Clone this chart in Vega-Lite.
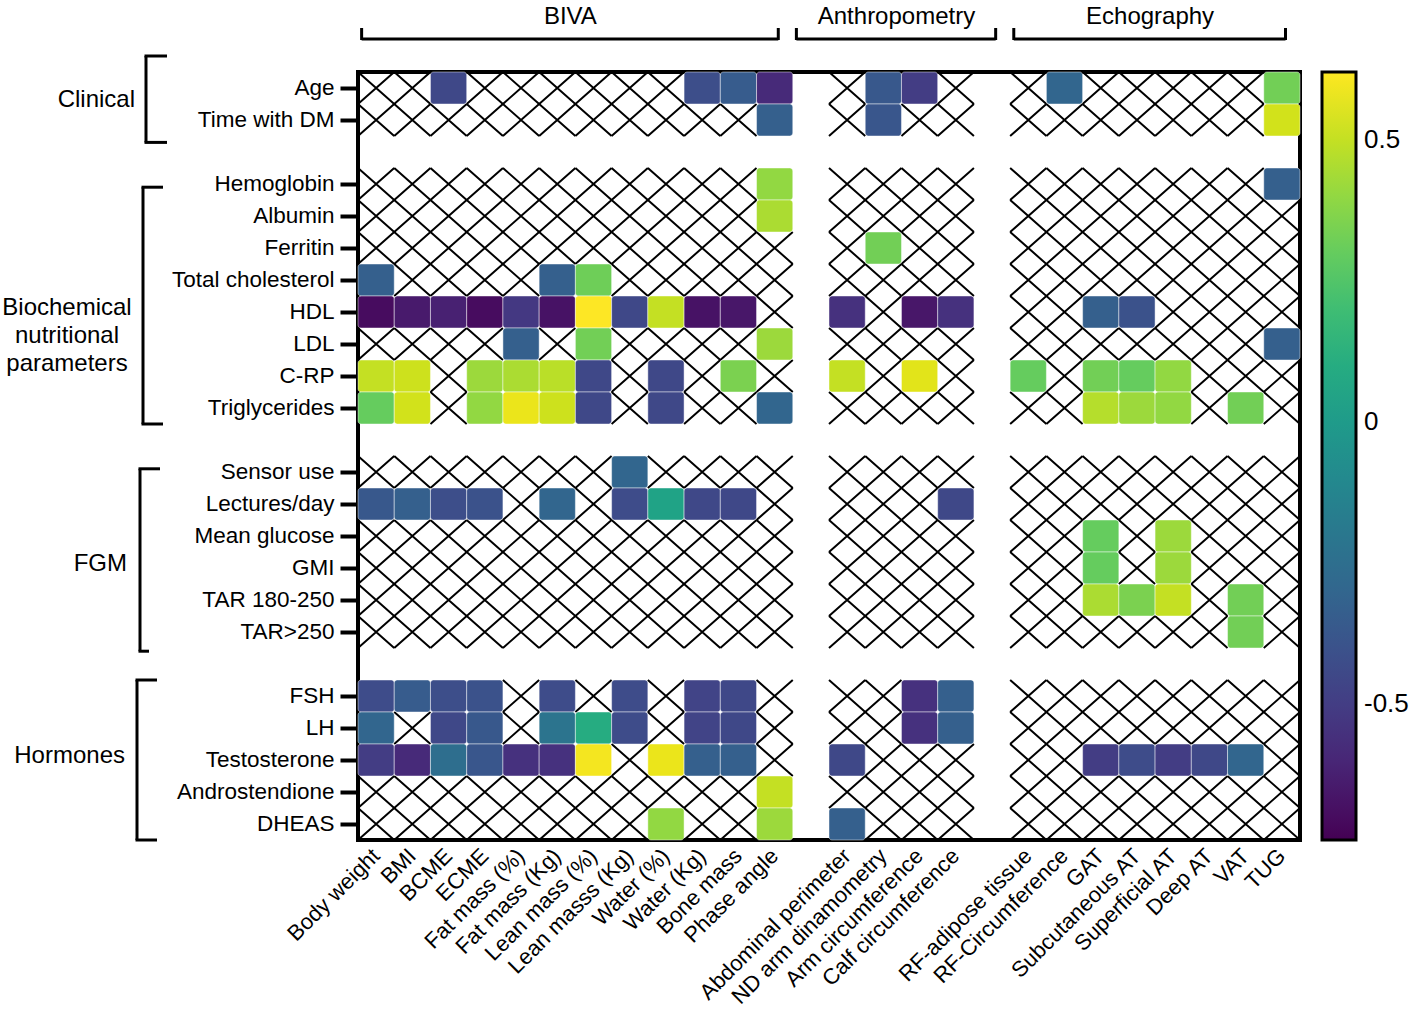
{
"$schema": "https://vega.github.io/schema/vega-lite/v6.json",
"autosize": {"type": "none"},
"padding": {"left": 358, "top": 72, "right": 117, "bottom": 174},
"width": 942,
"height": 768,
"background": "white",
"config": {
  "font": "Liberation Sans",
  "view": {"stroke": "black", "strokeWidth": 4},
  "axis": {"labelColor": "black", "labelFont": "Liberation Sans"},
  "legend": {"labelFont": "Liberation Sans", "labelColor": "black"},
  "rule": {"strokeWidth": 3, "color": "black"}
},
"datasets": {
"cells": [
{"r":"Age","c":"Body weight"},{"r":"Age","c":"BMI"},{"r":"Age","c":"BCME","v":-0.45},{"r":"Age","c":"ECME"},{"r":"Age","c":"Fat mass (%)"},{"r":"Age","c":"Fat mass (Kg)"},{"r":"Age","c":"Lean mass (%)"},{"r":"Age","c":"Lean masss (Kg)"},{"r":"Age","c":"Water (%)"},{"r":"Age","c":"Water (Kg)","v":-0.42},{"r":"Age","c":"Bone mass","v":-0.35},{"r":"Age","c":"Phase angle","v":-0.58},{"r":"Age","c":"Abdominal perimeter"},{"r":"Age","c":"ND arm dinamometry","v":-0.37},{"r":"Age","c":"Arm circumference","v":-0.5},{"r":"Age","c":"Calf circumference"},{"r":"Age","c":"RF-adipose tissue"},{"r":"Age","c":"RF-Circumference","v":-0.3},{"r":"Age","c":"GAT"},{"r":"Age","c":"Subcutaneous AT"},{"r":"Age","c":"Superficial AT"},{"r":"Age","c":"Deep AT"},{"r":"Age","c":"VAT"},{"r":"Age","c":"TUG","v":0.33},
{"r":"Time with DM","c":"Body weight"},{"r":"Time with DM","c":"BMI"},{"r":"Time with DM","c":"BCME"},{"r":"Time with DM","c":"ECME"},{"r":"Time with DM","c":"Fat mass (%)"},{"r":"Time with DM","c":"Fat mass (Kg)"},{"r":"Time with DM","c":"Lean mass (%)"},{"r":"Time with DM","c":"Lean masss (Kg)"},{"r":"Time with DM","c":"Water (%)"},{"r":"Time with DM","c":"Water (Kg)"},{"r":"Time with DM","c":"Bone mass"},{"r":"Time with DM","c":"Phase angle","v":-0.33},{"r":"Time with DM","c":"Abdominal perimeter"},{"r":"Time with DM","c":"ND arm dinamometry","v":-0.38},{"r":"Time with DM","c":"Arm circumference"},{"r":"Time with DM","c":"Calf circumference"},{"r":"Time with DM","c":"RF-adipose tissue"},{"r":"Time with DM","c":"RF-Circumference"},{"r":"Time with DM","c":"GAT"},{"r":"Time with DM","c":"Subcutaneous AT"},{"r":"Time with DM","c":"Superficial AT"},{"r":"Time with DM","c":"Deep AT"},{"r":"Time with DM","c":"VAT"},{"r":"Time with DM","c":"TUG","v":0.53},
{"r":"Hemoglobin","c":"Body weight"},{"r":"Hemoglobin","c":"BMI"},{"r":"Hemoglobin","c":"BCME"},{"r":"Hemoglobin","c":"ECME"},{"r":"Hemoglobin","c":"Fat mass (%)"},{"r":"Hemoglobin","c":"Fat mass (Kg)"},{"r":"Hemoglobin","c":"Lean mass (%)"},{"r":"Hemoglobin","c":"Lean masss (Kg)"},{"r":"Hemoglobin","c":"Water (%)"},{"r":"Hemoglobin","c":"Water (Kg)"},{"r":"Hemoglobin","c":"Bone mass"},{"r":"Hemoglobin","c":"Phase angle","v":0.4},{"r":"Hemoglobin","c":"Abdominal perimeter"},{"r":"Hemoglobin","c":"ND arm dinamometry"},{"r":"Hemoglobin","c":"Arm circumference"},{"r":"Hemoglobin","c":"Calf circumference"},{"r":"Hemoglobin","c":"RF-adipose tissue"},{"r":"Hemoglobin","c":"RF-Circumference"},{"r":"Hemoglobin","c":"GAT"},{"r":"Hemoglobin","c":"Subcutaneous AT"},{"r":"Hemoglobin","c":"Superficial AT"},{"r":"Hemoglobin","c":"Deep AT"},{"r":"Hemoglobin","c":"VAT"},{"r":"Hemoglobin","c":"TUG","v":-0.33},
{"r":"Albumin","c":"Body weight"},{"r":"Albumin","c":"BMI"},{"r":"Albumin","c":"BCME"},{"r":"Albumin","c":"ECME"},{"r":"Albumin","c":"Fat mass (%)"},{"r":"Albumin","c":"Fat mass (Kg)"},{"r":"Albumin","c":"Lean mass (%)"},{"r":"Albumin","c":"Lean masss (Kg)"},{"r":"Albumin","c":"Water (%)"},{"r":"Albumin","c":"Water (Kg)"},{"r":"Albumin","c":"Bone mass"},{"r":"Albumin","c":"Phase angle","v":0.45},{"r":"Albumin","c":"Abdominal perimeter"},{"r":"Albumin","c":"ND arm dinamometry"},{"r":"Albumin","c":"Arm circumference"},{"r":"Albumin","c":"Calf circumference"},{"r":"Albumin","c":"RF-adipose tissue"},{"r":"Albumin","c":"RF-Circumference"},{"r":"Albumin","c":"GAT"},{"r":"Albumin","c":"Subcutaneous AT"},{"r":"Albumin","c":"Superficial AT"},{"r":"Albumin","c":"Deep AT"},{"r":"Albumin","c":"VAT"},{"r":"Albumin","c":"TUG"},
{"r":"Ferritin","c":"Body weight"},{"r":"Ferritin","c":"BMI"},{"r":"Ferritin","c":"BCME"},{"r":"Ferritin","c":"ECME"},{"r":"Ferritin","c":"Fat mass (%)"},{"r":"Ferritin","c":"Fat mass (Kg)"},{"r":"Ferritin","c":"Lean mass (%)"},{"r":"Ferritin","c":"Lean masss (Kg)"},{"r":"Ferritin","c":"Water (%)"},{"r":"Ferritin","c":"Water (Kg)"},{"r":"Ferritin","c":"Bone mass"},{"r":"Ferritin","c":"Phase angle"},{"r":"Ferritin","c":"Abdominal perimeter"},{"r":"Ferritin","c":"ND arm dinamometry","v":0.33},{"r":"Ferritin","c":"Arm circumference"},{"r":"Ferritin","c":"Calf circumference"},{"r":"Ferritin","c":"RF-adipose tissue"},{"r":"Ferritin","c":"RF-Circumference"},{"r":"Ferritin","c":"GAT"},{"r":"Ferritin","c":"Subcutaneous AT"},{"r":"Ferritin","c":"Superficial AT"},{"r":"Ferritin","c":"Deep AT"},{"r":"Ferritin","c":"VAT"},{"r":"Ferritin","c":"TUG"},
{"r":"Total cholesterol","c":"Body weight","v":-0.33},{"r":"Total cholesterol","c":"BMI"},{"r":"Total cholesterol","c":"BCME"},{"r":"Total cholesterol","c":"ECME"},{"r":"Total cholesterol","c":"Fat mass (%)"},{"r":"Total cholesterol","c":"Fat mass (Kg)","v":-0.33},{"r":"Total cholesterol","c":"Lean mass (%)","v":0.32},{"r":"Total cholesterol","c":"Lean masss (Kg)"},{"r":"Total cholesterol","c":"Water (%)"},{"r":"Total cholesterol","c":"Water (Kg)"},{"r":"Total cholesterol","c":"Bone mass"},{"r":"Total cholesterol","c":"Phase angle"},{"r":"Total cholesterol","c":"Abdominal perimeter"},{"r":"Total cholesterol","c":"ND arm dinamometry"},{"r":"Total cholesterol","c":"Arm circumference"},{"r":"Total cholesterol","c":"Calf circumference"},{"r":"Total cholesterol","c":"RF-adipose tissue"},{"r":"Total cholesterol","c":"RF-Circumference"},{"r":"Total cholesterol","c":"GAT"},{"r":"Total cholesterol","c":"Subcutaneous AT"},{"r":"Total cholesterol","c":"Superficial AT"},{"r":"Total cholesterol","c":"Deep AT"},{"r":"Total cholesterol","c":"VAT"},{"r":"Total cholesterol","c":"TUG"},
{"r":"HDL","c":"Body weight","v":-0.7},{"r":"HDL","c":"BMI","v":-0.65},{"r":"HDL","c":"BCME","v":-0.62},{"r":"HDL","c":"ECME","v":-0.7},{"r":"HDL","c":"Fat mass (%)","v":-0.52},{"r":"HDL","c":"Fat mass (Kg)","v":-0.68},{"r":"HDL","c":"Lean mass (%)","v":0.62},{"r":"HDL","c":"Lean masss (Kg)","v":-0.45},{"r":"HDL","c":"Water (%)","v":0.5},{"r":"HDL","c":"Water (Kg)","v":-0.68},{"r":"HDL","c":"Bone mass","v":-0.66},{"r":"HDL","c":"Phase angle"},{"r":"HDL","c":"Abdominal perimeter","v":-0.55},{"r":"HDL","c":"ND arm dinamometry"},{"r":"HDL","c":"Arm circumference","v":-0.66},{"r":"HDL","c":"Calf circumference","v":-0.55},{"r":"HDL","c":"RF-adipose tissue"},{"r":"HDL","c":"RF-Circumference"},{"r":"HDL","c":"GAT","v":-0.33},{"r":"HDL","c":"Subcutaneous AT","v":-0.4},{"r":"HDL","c":"Superficial AT"},{"r":"HDL","c":"Deep AT"},{"r":"HDL","c":"VAT"},{"r":"HDL","c":"TUG"},
{"r":"LDL","c":"Body weight"},{"r":"LDL","c":"BMI"},{"r":"LDL","c":"BCME"},{"r":"LDL","c":"ECME"},{"r":"LDL","c":"Fat mass (%)","v":-0.33},{"r":"LDL","c":"Fat mass (Kg)"},{"r":"LDL","c":"Lean mass (%)","v":0.33},{"r":"LDL","c":"Lean masss (Kg)"},{"r":"LDL","c":"Water (%)"},{"r":"LDL","c":"Water (Kg)"},{"r":"LDL","c":"Bone mass"},{"r":"LDL","c":"Phase angle","v":0.42},{"r":"LDL","c":"Abdominal perimeter"},{"r":"LDL","c":"ND arm dinamometry"},{"r":"LDL","c":"Arm circumference"},{"r":"LDL","c":"Calf circumference"},{"r":"LDL","c":"RF-adipose tissue"},{"r":"LDL","c":"RF-Circumference"},{"r":"LDL","c":"GAT"},{"r":"LDL","c":"Subcutaneous AT"},{"r":"LDL","c":"Superficial AT"},{"r":"LDL","c":"Deep AT"},{"r":"LDL","c":"VAT"},{"r":"LDL","c":"TUG","v":-0.33},
{"r":"C-RP","c":"Body weight","v":0.5},{"r":"C-RP","c":"BMI","v":0.52},{"r":"C-RP","c":"BCME"},{"r":"C-RP","c":"ECME","v":0.42},{"r":"C-RP","c":"Fat mass (%)","v":0.45},{"r":"C-RP","c":"Fat mass (Kg)","v":0.48},{"r":"C-RP","c":"Lean mass (%)","v":-0.45},{"r":"C-RP","c":"Lean masss (Kg)"},{"r":"C-RP","c":"Water (%)","v":-0.45},{"r":"C-RP","c":"Water (Kg)"},{"r":"C-RP","c":"Bone mass","v":0.35},{"r":"C-RP","c":"Phase angle"},{"r":"C-RP","c":"Abdominal perimeter","v":0.5},{"r":"C-RP","c":"ND arm dinamometry"},{"r":"C-RP","c":"Arm circumference","v":0.56},{"r":"C-RP","c":"Calf circumference"},{"r":"C-RP","c":"RF-adipose tissue","v":0.3},{"r":"C-RP","c":"RF-Circumference"},{"r":"C-RP","c":"GAT","v":0.33},{"r":"C-RP","c":"Subcutaneous AT","v":0.3},{"r":"C-RP","c":"Superficial AT","v":0.4},{"r":"C-RP","c":"Deep AT"},{"r":"C-RP","c":"VAT"},{"r":"C-RP","c":"TUG"},
{"r":"Triglycerides","c":"Body weight","v":0.3},{"r":"Triglycerides","c":"BMI","v":0.53},{"r":"Triglycerides","c":"BCME"},{"r":"Triglycerides","c":"ECME","v":0.4},{"r":"Triglycerides","c":"Fat mass (%)","v":0.58},{"r":"Triglycerides","c":"Fat mass (Kg)","v":0.52},{"r":"Triglycerides","c":"Lean mass (%)","v":-0.45},{"r":"Triglycerides","c":"Lean masss (Kg)"},{"r":"Triglycerides","c":"Water (%)","v":-0.45},{"r":"Triglycerides","c":"Water (Kg)"},{"r":"Triglycerides","c":"Bone mass"},{"r":"Triglycerides","c":"Phase angle","v":-0.3},{"r":"Triglycerides","c":"Abdominal perimeter"},{"r":"Triglycerides","c":"ND arm dinamometry"},{"r":"Triglycerides","c":"Arm circumference"},{"r":"Triglycerides","c":"Calf circumference"},{"r":"Triglycerides","c":"RF-adipose tissue"},{"r":"Triglycerides","c":"RF-Circumference"},{"r":"Triglycerides","c":"GAT","v":0.47},{"r":"Triglycerides","c":"Subcutaneous AT","v":0.42},{"r":"Triglycerides","c":"Superficial AT","v":0.4},{"r":"Triglycerides","c":"Deep AT"},{"r":"Triglycerides","c":"VAT","v":0.33},{"r":"Triglycerides","c":"TUG"},
{"r":"Sensor use","c":"Body weight"},{"r":"Sensor use","c":"BMI"},{"r":"Sensor use","c":"BCME"},{"r":"Sensor use","c":"ECME"},{"r":"Sensor use","c":"Fat mass (%)"},{"r":"Sensor use","c":"Fat mass (Kg)"},{"r":"Sensor use","c":"Lean mass (%)"},{"r":"Sensor use","c":"Lean masss (Kg)","v":-0.3},{"r":"Sensor use","c":"Water (%)"},{"r":"Sensor use","c":"Water (Kg)"},{"r":"Sensor use","c":"Bone mass"},{"r":"Sensor use","c":"Phase angle"},{"r":"Sensor use","c":"Abdominal perimeter"},{"r":"Sensor use","c":"ND arm dinamometry"},{"r":"Sensor use","c":"Arm circumference"},{"r":"Sensor use","c":"Calf circumference"},{"r":"Sensor use","c":"RF-adipose tissue"},{"r":"Sensor use","c":"RF-Circumference"},{"r":"Sensor use","c":"GAT"},{"r":"Sensor use","c":"Subcutaneous AT"},{"r":"Sensor use","c":"Superficial AT"},{"r":"Sensor use","c":"Deep AT"},{"r":"Sensor use","c":"VAT"},{"r":"Sensor use","c":"TUG"},
{"r":"Lectures/day","c":"Body weight","v":-0.37},{"r":"Lectures/day","c":"BMI","v":-0.33},{"r":"Lectures/day","c":"BCME","v":-0.42},{"r":"Lectures/day","c":"ECME","v":-0.4},{"r":"Lectures/day","c":"Fat mass (%)"},{"r":"Lectures/day","c":"Fat mass (Kg)","v":-0.3},{"r":"Lectures/day","c":"Lean mass (%)"},{"r":"Lectures/day","c":"Lean masss (Kg)","v":-0.43},{"r":"Lectures/day","c":"Water (%)","v":0.05},{"r":"Lectures/day","c":"Water (Kg)","v":-0.45},{"r":"Lectures/day","c":"Bone mass","v":-0.45},{"r":"Lectures/day","c":"Phase angle"},{"r":"Lectures/day","c":"Abdominal perimeter"},{"r":"Lectures/day","c":"ND arm dinamometry"},{"r":"Lectures/day","c":"Arm circumference"},{"r":"Lectures/day","c":"Calf circumference","v":-0.45},{"r":"Lectures/day","c":"RF-adipose tissue"},{"r":"Lectures/day","c":"RF-Circumference"},{"r":"Lectures/day","c":"GAT"},{"r":"Lectures/day","c":"Subcutaneous AT"},{"r":"Lectures/day","c":"Superficial AT"},{"r":"Lectures/day","c":"Deep AT"},{"r":"Lectures/day","c":"VAT"},{"r":"Lectures/day","c":"TUG"},
{"r":"Mean glucose","c":"Body weight"},{"r":"Mean glucose","c":"BMI"},{"r":"Mean glucose","c":"BCME"},{"r":"Mean glucose","c":"ECME"},{"r":"Mean glucose","c":"Fat mass (%)"},{"r":"Mean glucose","c":"Fat mass (Kg)"},{"r":"Mean glucose","c":"Lean mass (%)"},{"r":"Mean glucose","c":"Lean masss (Kg)"},{"r":"Mean glucose","c":"Water (%)"},{"r":"Mean glucose","c":"Water (Kg)"},{"r":"Mean glucose","c":"Bone mass"},{"r":"Mean glucose","c":"Phase angle"},{"r":"Mean glucose","c":"Abdominal perimeter"},{"r":"Mean glucose","c":"ND arm dinamometry"},{"r":"Mean glucose","c":"Arm circumference"},{"r":"Mean glucose","c":"Calf circumference"},{"r":"Mean glucose","c":"RF-adipose tissue"},{"r":"Mean glucose","c":"RF-Circumference"},{"r":"Mean glucose","c":"GAT","v":0.3},{"r":"Mean glucose","c":"Subcutaneous AT"},{"r":"Mean glucose","c":"Superficial AT","v":0.42},{"r":"Mean glucose","c":"Deep AT"},{"r":"Mean glucose","c":"VAT"},{"r":"Mean glucose","c":"TUG"},
{"r":"GMI","c":"Body weight"},{"r":"GMI","c":"BMI"},{"r":"GMI","c":"BCME"},{"r":"GMI","c":"ECME"},{"r":"GMI","c":"Fat mass (%)"},{"r":"GMI","c":"Fat mass (Kg)"},{"r":"GMI","c":"Lean mass (%)"},{"r":"GMI","c":"Lean masss (Kg)"},{"r":"GMI","c":"Water (%)"},{"r":"GMI","c":"Water (Kg)"},{"r":"GMI","c":"Bone mass"},{"r":"GMI","c":"Phase angle"},{"r":"GMI","c":"Abdominal perimeter"},{"r":"GMI","c":"ND arm dinamometry"},{"r":"GMI","c":"Arm circumference"},{"r":"GMI","c":"Calf circumference"},{"r":"GMI","c":"RF-adipose tissue"},{"r":"GMI","c":"RF-Circumference"},{"r":"GMI","c":"GAT","v":0.3},{"r":"GMI","c":"Subcutaneous AT"},{"r":"GMI","c":"Superficial AT","v":0.42},{"r":"GMI","c":"Deep AT"},{"r":"GMI","c":"VAT"},{"r":"GMI","c":"TUG"},
{"r":"TAR 180-250","c":"Body weight"},{"r":"TAR 180-250","c":"BMI"},{"r":"TAR 180-250","c":"BCME"},{"r":"TAR 180-250","c":"ECME"},{"r":"TAR 180-250","c":"Fat mass (%)"},{"r":"TAR 180-250","c":"Fat mass (Kg)"},{"r":"TAR 180-250","c":"Lean mass (%)"},{"r":"TAR 180-250","c":"Lean masss (Kg)"},{"r":"TAR 180-250","c":"Water (%)"},{"r":"TAR 180-250","c":"Water (Kg)"},{"r":"TAR 180-250","c":"Bone mass"},{"r":"TAR 180-250","c":"Phase angle"},{"r":"TAR 180-250","c":"Abdominal perimeter"},{"r":"TAR 180-250","c":"ND arm dinamometry"},{"r":"TAR 180-250","c":"Arm circumference"},{"r":"TAR 180-250","c":"Calf circumference"},{"r":"TAR 180-250","c":"RF-adipose tissue"},{"r":"TAR 180-250","c":"RF-Circumference"},{"r":"TAR 180-250","c":"GAT","v":0.45},{"r":"TAR 180-250","c":"Subcutaneous AT","v":0.35},{"r":"TAR 180-250","c":"Superficial AT","v":0.5},{"r":"TAR 180-250","c":"Deep AT"},{"r":"TAR 180-250","c":"VAT","v":0.33},{"r":"TAR 180-250","c":"TUG"},
{"r":"TAR>250","c":"Body weight"},{"r":"TAR>250","c":"BMI"},{"r":"TAR>250","c":"BCME"},{"r":"TAR>250","c":"ECME"},{"r":"TAR>250","c":"Fat mass (%)"},{"r":"TAR>250","c":"Fat mass (Kg)"},{"r":"TAR>250","c":"Lean mass (%)"},{"r":"TAR>250","c":"Lean masss (Kg)"},{"r":"TAR>250","c":"Water (%)"},{"r":"TAR>250","c":"Water (Kg)"},{"r":"TAR>250","c":"Bone mass"},{"r":"TAR>250","c":"Phase angle"},{"r":"TAR>250","c":"Abdominal perimeter"},{"r":"TAR>250","c":"ND arm dinamometry"},{"r":"TAR>250","c":"Arm circumference"},{"r":"TAR>250","c":"Calf circumference"},{"r":"TAR>250","c":"RF-adipose tissue"},{"r":"TAR>250","c":"RF-Circumference"},{"r":"TAR>250","c":"GAT"},{"r":"TAR>250","c":"Subcutaneous AT"},{"r":"TAR>250","c":"Superficial AT"},{"r":"TAR>250","c":"Deep AT"},{"r":"TAR>250","c":"VAT","v":0.33},{"r":"TAR>250","c":"TUG"},
{"r":"FSH","c":"Body weight","v":-0.43},{"r":"FSH","c":"BMI","v":-0.35},{"r":"FSH","c":"BCME","v":-0.42},{"r":"FSH","c":"ECME","v":-0.4},{"r":"FSH","c":"Fat mass (%)"},{"r":"FSH","c":"Fat mass (Kg)","v":-0.43},{"r":"FSH","c":"Lean mass (%)"},{"r":"FSH","c":"Lean masss (Kg)","v":-0.43},{"r":"FSH","c":"Water (%)"},{"r":"FSH","c":"Water (Kg)","v":-0.47},{"r":"FSH","c":"Bone mass","v":-0.45},{"r":"FSH","c":"Phase angle"},{"r":"FSH","c":"Abdominal perimeter"},{"r":"FSH","c":"ND arm dinamometry"},{"r":"FSH","c":"Arm circumference","v":-0.55},{"r":"FSH","c":"Calf circumference","v":-0.33},{"r":"FSH","c":"RF-adipose tissue"},{"r":"FSH","c":"RF-Circumference"},{"r":"FSH","c":"GAT"},{"r":"FSH","c":"Subcutaneous AT"},{"r":"FSH","c":"Superficial AT"},{"r":"FSH","c":"Deep AT"},{"r":"FSH","c":"VAT"},{"r":"FSH","c":"TUG"},
{"r":"LH","c":"Body weight","v":-0.3},{"r":"LH","c":"BMI"},{"r":"LH","c":"BCME","v":-0.45},{"r":"LH","c":"ECME","v":-0.37},{"r":"LH","c":"Fat mass (%)"},{"r":"LH","c":"Fat mass (Kg)","v":-0.22},{"r":"LH","c":"Lean mass (%)","v":0.1},{"r":"LH","c":"Lean masss (Kg)","v":-0.43},{"r":"LH","c":"Water (%)"},{"r":"LH","c":"Water (Kg)","v":-0.47},{"r":"LH","c":"Bone mass","v":-0.45},{"r":"LH","c":"Phase angle"},{"r":"LH","c":"Abdominal perimeter"},{"r":"LH","c":"ND arm dinamometry"},{"r":"LH","c":"Arm circumference","v":-0.55},{"r":"LH","c":"Calf circumference","v":-0.33},{"r":"LH","c":"RF-adipose tissue"},{"r":"LH","c":"RF-Circumference"},{"r":"LH","c":"GAT"},{"r":"LH","c":"Subcutaneous AT"},{"r":"LH","c":"Superficial AT"},{"r":"LH","c":"Deep AT"},{"r":"LH","c":"VAT"},{"r":"LH","c":"TUG"},
{"r":"Testosterone","c":"Body weight","v":-0.5},{"r":"Testosterone","c":"BMI","v":-0.58},{"r":"Testosterone","c":"BCME","v":-0.25},{"r":"Testosterone","c":"ECME","v":-0.38},{"r":"Testosterone","c":"Fat mass (%)","v":-0.55},{"r":"Testosterone","c":"Fat mass (Kg)","v":-0.55},{"r":"Testosterone","c":"Lean mass (%)","v":0.6},{"r":"Testosterone","c":"Lean masss (Kg)"},{"r":"Testosterone","c":"Water (%)","v":0.58},{"r":"Testosterone","c":"Water (Kg)","v":-0.33},{"r":"Testosterone","c":"Bone mass","v":-0.33},{"r":"Testosterone","c":"Phase angle"},{"r":"Testosterone","c":"Abdominal perimeter","v":-0.45},{"r":"Testosterone","c":"ND arm dinamometry"},{"r":"Testosterone","c":"Arm circumference"},{"r":"Testosterone","c":"Calf circumference"},{"r":"Testosterone","c":"RF-adipose tissue"},{"r":"Testosterone","c":"RF-Circumference"},{"r":"Testosterone","c":"GAT","v":-0.5},{"r":"Testosterone","c":"Subcutaneous AT","v":-0.43},{"r":"Testosterone","c":"Superficial AT","v":-0.5},{"r":"Testosterone","c":"Deep AT","v":-0.45},{"r":"Testosterone","c":"VAT","v":-0.3},{"r":"Testosterone","c":"TUG"},
{"r":"Androstendione","c":"Body weight"},{"r":"Androstendione","c":"BMI"},{"r":"Androstendione","c":"BCME"},{"r":"Androstendione","c":"ECME"},{"r":"Androstendione","c":"Fat mass (%)"},{"r":"Androstendione","c":"Fat mass (Kg)"},{"r":"Androstendione","c":"Lean mass (%)"},{"r":"Androstendione","c":"Lean masss (Kg)"},{"r":"Androstendione","c":"Water (%)"},{"r":"Androstendione","c":"Water (Kg)"},{"r":"Androstendione","c":"Bone mass"},{"r":"Androstendione","c":"Phase angle","v":0.5},{"r":"Androstendione","c":"Abdominal perimeter"},{"r":"Androstendione","c":"ND arm dinamometry"},{"r":"Androstendione","c":"Arm circumference"},{"r":"Androstendione","c":"Calf circumference"},{"r":"Androstendione","c":"RF-adipose tissue"},{"r":"Androstendione","c":"RF-Circumference"},{"r":"Androstendione","c":"GAT"},{"r":"Androstendione","c":"Subcutaneous AT"},{"r":"Androstendione","c":"Superficial AT"},{"r":"Androstendione","c":"Deep AT"},{"r":"Androstendione","c":"VAT"},{"r":"Androstendione","c":"TUG"},
{"r":"DHEAS","c":"Body weight"},{"r":"DHEAS","c":"BMI"},{"r":"DHEAS","c":"BCME"},{"r":"DHEAS","c":"ECME"},{"r":"DHEAS","c":"Fat mass (%)"},{"r":"DHEAS","c":"Fat mass (Kg)"},{"r":"DHEAS","c":"Lean mass (%)"},{"r":"DHEAS","c":"Lean masss (Kg)"},{"r":"DHEAS","c":"Water (%)","v":0.4},{"r":"DHEAS","c":"Water (Kg)"},{"r":"DHEAS","c":"Bone mass"},{"r":"DHEAS","c":"Phase angle","v":0.42},{"r":"DHEAS","c":"Abdominal perimeter","v":-0.33},{"r":"DHEAS","c":"ND arm dinamometry"},{"r":"DHEAS","c":"Arm circumference"},{"r":"DHEAS","c":"Calf circumference"},{"r":"DHEAS","c":"RF-adipose tissue"},{"r":"DHEAS","c":"RF-Circumference"},{"r":"DHEAS","c":"GAT"},{"r":"DHEAS","c":"Subcutaneous AT"},{"r":"DHEAS","c":"Superficial AT"},{"r":"DHEAS","c":"Deep AT"},{"r":"DHEAS","c":"VAT"},{"r":"DHEAS","c":"TUG"}
],
"top": [
{"g":"BIVA","s":"Body weight","e":"Phase angle","t":"Lean mass (%)"},
{"g":"Anthropometry","s":"gap1","e":"gap2","t":"Arm circumference"},
{"g":"Echography","s":"RF-adipose tissue","e":"TUG","t":"Superficial AT"}
],
"left": [
{"g":"Clinical","s":"Age","e":"Time with DM","at":"Time with DM"},
{"g":"Biochemical\nnutritional\nparameters","s":"Hemoglobin","e":"Triglycerides","at":"HDL"},
{"g":"FGM","s":"Sensor use","e":"TAR>250","at":"GMI"},
{"g":"Hormones","s":"FSH","e":"DHEAS","at":"Testosterone"}
]
},
"layer": [
{
"data": {"name": "cells"},
"transform": [{"filter": "!isValid(datum.v)"}],
"mark": {"type": "point", "shape": "M-1,-0.8832L1,0.8832M-1,0.8832L1,-0.8832", "size": 1312.6, "filled": false, "stroke": "black", "color": "black", "strokeWidth": 2, "opacity": 1},
"encoding": {
"x": {"field": "c", "type": "nominal", "title": null, "sort": null,
"scale": {"type": "band", "paddingInner": 0, "paddingOuter": 0, "domain": ["Body weight","BMI","BCME","ECME","Fat mass (%)","Fat mass (Kg)","Lean mass (%)","Lean masss (Kg)","Water (%)","Water (Kg)","Bone mass","Phase angle","gap1","Abdominal perimeter","ND arm dinamometry","Arm circumference","Calf circumference","gap2","RF-adipose tissue","RF-Circumference","GAT","Subcutaneous AT","Superficial AT","Deep AT","VAT","TUG"]},
"axis": {"labelExpr": "indexof(datum.label, 'gap') === 0 ? '' : datum.label", "labelAngle": -45, "labelFontSize": 22, "ticks": false, "domain": false, "labelPadding": 12, "labelBaseline": "middle", "labelAlign": "right", "labelOverlap": false, "labelBound": false, "labelFlush": false, "labelLimit": 400}},
"y": {"field": "r", "type": "nominal", "title": null, "sort": null,
"scale": {"type": "band", "paddingInner": 0, "paddingOuter": 0, "domain": ["Age","Time with DM","gapA","Hemoglobin","Albumin","Ferritin","Total cholesterol","HDL","LDL","C-RP","Triglycerides","gapB","Sensor use","Lectures/day","Mean glucose","GMI","TAR 180-250","TAR>250","gapC","FSH","LH","Testosterone","Androstendione","DHEAS"]},
"axis": {"values": ["Age","Time with DM","Hemoglobin","Albumin","Ferritin","Total cholesterol","HDL","LDL","C-RP","Triglycerides","Sensor use","Lectures/day","Mean glucose","GMI","TAR 180-250","TAR>250","FSH","LH","Testosterone","Androstendione","DHEAS"], "labelFontSize": 22.5, "ticks": true, "tickSize": 18, "tickWidth": 4, "tickColor": "black", "domain": false, "labelPadding": 6, "labelOverlap": false, "labelBound": false, "labelLimit": 400}}
}
},
{
"data": {"name": "cells"},
"transform": [{"filter": "isValid(datum.v)"}],
"mark": {"type": "rect", "cornerRadius": 3, "stroke": "white", "strokeWidth": 1, "strokeOpacity": 0.45},
"encoding": {
"x": {"field": "c", "type": "nominal", "title": null, "sort": null, "scale": {"type": "band", "paddingInner": 0, "paddingOuter": 0, "domain": ["Body weight","BMI","BCME","ECME","Fat mass (%)","Fat mass (Kg)","Lean mass (%)","Lean masss (Kg)","Water (%)","Water (Kg)","Bone mass","Phase angle","gap1","Abdominal perimeter","ND arm dinamometry","Arm circumference","Calf circumference","gap2","RF-adipose tissue","RF-Circumference","GAT","Subcutaneous AT","Superficial AT","Deep AT","VAT","TUG"]}},
"y": {"field": "r", "type": "nominal", "title": null, "sort": null, "scale": {"type": "band", "paddingInner": 0, "paddingOuter": 0, "domain": ["Age","Time with DM","gapA","Hemoglobin","Albumin","Ferritin","Total cholesterol","HDL","LDL","C-RP","Triglycerides","gapB","Sensor use","Lectures/day","Mean glucose","GMI","TAR 180-250","TAR>250","gapC","FSH","LH","Testosterone","Androstendione","DHEAS"]}},
"color": {"field": "v", "type": "quantitative", "title": null,
"scale": {"scheme": "viridis", "domain": [-0.74, 0.62], "nice": false, "zero": false},
"legend": {"values": [-0.5, 0, 0.5], "labelExpr": "'' + datum.value", "gradientLength": 768, "gradientThickness": 34, "gradientStrokeColor": "black", "gradientStrokeWidth": 3, "labelFontSize": 26, "labelOffset": 8, "offset": 22, "padding": 0, "direction": "vertical", "orient": "right"}}
}
},
{
"data": {"name": "top"},
"mark": {"type": "rule"},
"encoding": {
"x": {"field": "s", "type": "nominal", "title": null, "bandPosition": 0.1, "scale": {"type": "band", "paddingInner": 0, "paddingOuter": 0, "domain": ["Body weight","BMI","BCME","ECME","Fat mass (%)","Fat mass (Kg)","Lean mass (%)","Lean masss (Kg)","Water (%)","Water (Kg)","Bone mass","Phase angle","gap1","Abdominal perimeter","ND arm dinamometry","Arm circumference","Calf circumference","gap2","RF-adipose tissue","RF-Circumference","GAT","Subcutaneous AT","Superficial AT","Deep AT","VAT","TUG"]}},
"x2": {"field": "e", "bandPosition": 0.6},
"y": {"value": -33}
}
},
{
"data": {"name": "top"},
"mark": {"type": "rule"},
"encoding": {
"x": {"field": "s", "type": "nominal", "title": null, "bandPosition": 0.1, "scale": {"type": "band", "paddingInner": 0, "paddingOuter": 0, "domain": ["Body weight","BMI","BCME","ECME","Fat mass (%)","Fat mass (Kg)","Lean mass (%)","Lean masss (Kg)","Water (%)","Water (Kg)","Bone mass","Phase angle","gap1","Abdominal perimeter","ND arm dinamometry","Arm circumference","Calf circumference","gap2","RF-adipose tissue","RF-Circumference","GAT","Subcutaneous AT","Superficial AT","Deep AT","VAT","TUG"]}},
"y": {"value": -32},
"y2": {"value": -44}
}
},
{
"data": {"name": "top"},
"mark": {"type": "rule"},
"encoding": {
"x": {"field": "e", "type": "nominal", "title": null, "bandPosition": 0.6, "scale": {"type": "band", "paddingInner": 0, "paddingOuter": 0, "domain": ["Body weight","BMI","BCME","ECME","Fat mass (%)","Fat mass (Kg)","Lean mass (%)","Lean masss (Kg)","Water (%)","Water (Kg)","Bone mass","Phase angle","gap1","Abdominal perimeter","ND arm dinamometry","Arm circumference","Calf circumference","gap2","RF-adipose tissue","RF-Circumference","GAT","Subcutaneous AT","Superficial AT","Deep AT","VAT","TUG"]}},
"y": {"value": -32},
"y2": {"value": -44}
}
},
{
"data": {"name": "top"},
"mark": {"type": "text", "fontSize": 24, "baseline": "middle", "align": "center", "dx": -5, "color": "black"},
"encoding": {
"x": {"field": "t", "type": "nominal", "title": null, "bandPosition": 0, "scale": {"type": "band", "paddingInner": 0, "paddingOuter": 0, "domain": ["Body weight","BMI","BCME","ECME","Fat mass (%)","Fat mass (Kg)","Lean mass (%)","Lean masss (Kg)","Water (%)","Water (Kg)","Bone mass","Phase angle","gap1","Abdominal perimeter","ND arm dinamometry","Arm circumference","Calf circumference","gap2","RF-adipose tissue","RF-Circumference","GAT","Subcutaneous AT","Superficial AT","Deep AT","VAT","TUG"]}},
"y": {"value": -55},
"text": {"field": "g"}
}
},
{
"data": {"name": "left"},
"transform": [{"filter": "datum.g === 'Clinical'"}],
"layer": [
{"mark": {"type": "rule"}, "encoding": {"x": {"value": -212}, "y": {"field": "s", "type": "nominal", "title": null, "bandPosition": -0.5, "scale": {"type": "band", "paddingInner": 0, "paddingOuter": 0, "domain": ["Age","Time with DM","gapA","Hemoglobin","Albumin","Ferritin","Total cholesterol","HDL","LDL","C-RP","Triglycerides","gapB","Sensor use","Lectures/day","Mean glucose","GMI","TAR 180-250","TAR>250","gapC","FSH","LH","Testosterone","Androstendione","DHEAS"]}}, "y2": {"field": "e", "bandPosition": 1.2}}},
{"mark": {"type": "rule"}, "encoding": {"x": {"value": -213.5}, "x2": {"value": -191}, "y": {"field": "s", "type": "nominal", "title": null, "bandPosition": -0.5, "scale": {"type": "band", "paddingInner": 0, "paddingOuter": 0, "domain": ["Age","Time with DM","gapA","Hemoglobin","Albumin","Ferritin","Total cholesterol","HDL","LDL","C-RP","Triglycerides","gapB","Sensor use","Lectures/day","Mean glucose","GMI","TAR 180-250","TAR>250","gapC","FSH","LH","Testosterone","Androstendione","DHEAS"]}}}},
{"mark": {"type": "rule"}, "encoding": {"x": {"value": -213.5}, "x2": {"value": -191}, "y": {"field": "e", "type": "nominal", "title": null, "bandPosition": 1.2, "scale": {"type": "band", "paddingInner": 0, "paddingOuter": 0, "domain": ["Age","Time with DM","gapA","Hemoglobin","Albumin","Ferritin","Total cholesterol","HDL","LDL","C-RP","Triglycerides","gapB","Sensor use","Lectures/day","Mean glucose","GMI","TAR 180-250","TAR>250","gapC","FSH","LH","Testosterone","Androstendione","DHEAS"]}}}},
{"mark": {"type": "text", "fontSize": 24, "baseline": "middle", "align": "right", "dy": -4, "color": "black"}, "encoding": {"x": {"value": -223}, "y": {"field": "at", "type": "nominal", "title": null, "bandPosition": 0, "scale": {"type": "band", "paddingInner": 0, "paddingOuter": 0, "domain": ["Age","Time with DM","gapA","Hemoglobin","Albumin","Ferritin","Total cholesterol","HDL","LDL","C-RP","Triglycerides","gapB","Sensor use","Lectures/day","Mean glucose","GMI","TAR 180-250","TAR>250","gapC","FSH","LH","Testosterone","Androstendione","DHEAS"]}}, "text": {"field": "g"}}}
]
},
{
"data": {"name": "left"},
"transform": [{"filter": "indexof(datum.g, 'Biochemical') === 0"}],
"layer": [
{"mark": {"type": "rule"}, "encoding": {"x": {"value": -215}, "y": {"field": "s", "type": "nominal", "title": null, "bandPosition": 0.6, "scale": {"type": "band", "paddingInner": 0, "paddingOuter": 0, "domain": ["Age","Time with DM","gapA","Hemoglobin","Albumin","Ferritin","Total cholesterol","HDL","LDL","C-RP","Triglycerides","gapB","Sensor use","Lectures/day","Mean glucose","GMI","TAR 180-250","TAR>250","gapC","FSH","LH","Testosterone","Androstendione","DHEAS"]}}, "y2": {"field": "e", "bandPosition": 1}}},
{"mark": {"type": "rule"}, "encoding": {"x": {"value": -216.5}, "x2": {"value": -195}, "y": {"field": "s", "type": "nominal", "title": null, "bandPosition": 0.6, "scale": {"type": "band", "paddingInner": 0, "paddingOuter": 0, "domain": ["Age","Time with DM","gapA","Hemoglobin","Albumin","Ferritin","Total cholesterol","HDL","LDL","C-RP","Triglycerides","gapB","Sensor use","Lectures/day","Mean glucose","GMI","TAR 180-250","TAR>250","gapC","FSH","LH","Testosterone","Androstendione","DHEAS"]}}}},
{"mark": {"type": "rule"}, "encoding": {"x": {"value": -216.5}, "x2": {"value": -195}, "y": {"field": "e", "type": "nominal", "title": null, "bandPosition": 1, "scale": {"type": "band", "paddingInner": 0, "paddingOuter": 0, "domain": ["Age","Time with DM","gapA","Hemoglobin","Albumin","Ferritin","Total cholesterol","HDL","LDL","C-RP","Triglycerides","gapB","Sensor use","Lectures/day","Mean glucose","GMI","TAR 180-250","TAR>250","gapC","FSH","LH","Testosterone","Androstendione","DHEAS"]}}}},
{"mark": {"type": "text", "fontSize": 24, "baseline": "middle", "align": "center", "dy": -4, "lineBreak": "\n", "lineHeight": 28, "color": "black"}, "encoding": {"x": {"value": -291}, "y": {"field": "at", "type": "nominal", "title": null, "bandPosition": 0.5, "scale": {"type": "band", "paddingInner": 0, "paddingOuter": 0, "domain": ["Age","Time with DM","gapA","Hemoglobin","Albumin","Ferritin","Total cholesterol","HDL","LDL","C-RP","Triglycerides","gapB","Sensor use","Lectures/day","Mean glucose","GMI","TAR 180-250","TAR>250","gapC","FSH","LH","Testosterone","Androstendione","DHEAS"]}}, "text": {"field": "g"}}}
]
},
{
"data": {"name": "left"},
"transform": [{"filter": "datum.g === 'FGM'"}],
"layer": [
{"mark": {"type": "rule"}, "encoding": {"x": {"value": -218}, "y": {"field": "s", "type": "nominal", "title": null, "bandPosition": 0.4, "scale": {"type": "band", "paddingInner": 0, "paddingOuter": 0, "domain": ["Age","Time with DM","gapA","Hemoglobin","Albumin","Ferritin","Total cholesterol","HDL","LDL","C-RP","Triglycerides","gapB","Sensor use","Lectures/day","Mean glucose","GMI","TAR 180-250","TAR>250","gapC","FSH","LH","Testosterone","Androstendione","DHEAS"]}}, "y2": {"field": "e", "bandPosition": 1.1}}},
{"mark": {"type": "rule"}, "encoding": {"x": {"value": -219.5}, "x2": {"value": -198}, "y": {"field": "s", "type": "nominal", "title": null, "bandPosition": 0.4, "scale": {"type": "band", "paddingInner": 0, "paddingOuter": 0, "domain": ["Age","Time with DM","gapA","Hemoglobin","Albumin","Ferritin","Total cholesterol","HDL","LDL","C-RP","Triglycerides","gapB","Sensor use","Lectures/day","Mean glucose","GMI","TAR 180-250","TAR>250","gapC","FSH","LH","Testosterone","Androstendione","DHEAS"]}}}},
{"mark": {"type": "rule"}, "encoding": {"x": {"value": -219.5}, "x2": {"value": -209}, "y": {"field": "e", "type": "nominal", "title": null, "bandPosition": 1.1, "scale": {"type": "band", "paddingInner": 0, "paddingOuter": 0, "domain": ["Age","Time with DM","gapA","Hemoglobin","Albumin","Ferritin","Total cholesterol","HDL","LDL","C-RP","Triglycerides","gapB","Sensor use","Lectures/day","Mean glucose","GMI","TAR 180-250","TAR>250","gapC","FSH","LH","Testosterone","Androstendione","DHEAS"]}}}},
{"mark": {"type": "text", "fontSize": 24, "baseline": "middle", "align": "right", "dy": -4, "color": "black"}, "encoding": {"x": {"value": -231}, "y": {"field": "at", "type": "nominal", "title": null, "bandPosition": 0.5, "scale": {"type": "band", "paddingInner": 0, "paddingOuter": 0, "domain": ["Age","Time with DM","gapA","Hemoglobin","Albumin","Ferritin","Total cholesterol","HDL","LDL","C-RP","Triglycerides","gapB","Sensor use","Lectures/day","Mean glucose","GMI","TAR 180-250","TAR>250","gapC","FSH","LH","Testosterone","Androstendione","DHEAS"]}}, "text": {"field": "g"}}}
]
},
{
"data": {"name": "left"},
"transform": [{"filter": "datum.g === 'Hormones'"}],
"layer": [
{"mark": {"type": "rule"}, "encoding": {"x": {"value": -221}, "y": {"field": "s", "type": "nominal", "title": null, "bandPosition": 0, "scale": {"type": "band", "paddingInner": 0, "paddingOuter": 0, "domain": ["Age","Time with DM","gapA","Hemoglobin","Albumin","Ferritin","Total cholesterol","HDL","LDL","C-RP","Triglycerides","gapB","Sensor use","Lectures/day","Mean glucose","GMI","TAR 180-250","TAR>250","gapC","FSH","LH","Testosterone","Androstendione","DHEAS"]}}, "y2": {"field": "e", "bandPosition": 1}}},
{"mark": {"type": "rule"}, "encoding": {"x": {"value": -222.5}, "x2": {"value": -201}, "y": {"field": "s", "type": "nominal", "title": null, "bandPosition": 0, "scale": {"type": "band", "paddingInner": 0, "paddingOuter": 0, "domain": ["Age","Time with DM","gapA","Hemoglobin","Albumin","Ferritin","Total cholesterol","HDL","LDL","C-RP","Triglycerides","gapB","Sensor use","Lectures/day","Mean glucose","GMI","TAR 180-250","TAR>250","gapC","FSH","LH","Testosterone","Androstendione","DHEAS"]}}}},
{"mark": {"type": "rule"}, "encoding": {"x": {"value": -222.5}, "x2": {"value": -201}, "y": {"field": "e", "type": "nominal", "title": null, "bandPosition": 1, "scale": {"type": "band", "paddingInner": 0, "paddingOuter": 0, "domain": ["Age","Time with DM","gapA","Hemoglobin","Albumin","Ferritin","Total cholesterol","HDL","LDL","C-RP","Triglycerides","gapB","Sensor use","Lectures/day","Mean glucose","GMI","TAR 180-250","TAR>250","gapC","FSH","LH","Testosterone","Androstendione","DHEAS"]}}}},
{"mark": {"type": "text", "fontSize": 24, "baseline": "middle", "align": "right", "dy": -4, "color": "black"}, "encoding": {"x": {"value": -233}, "y": {"field": "at", "type": "nominal", "title": null, "bandPosition": 0.5, "scale": {"type": "band", "paddingInner": 0, "paddingOuter": 0, "domain": ["Age","Time with DM","gapA","Hemoglobin","Albumin","Ferritin","Total cholesterol","HDL","LDL","C-RP","Triglycerides","gapB","Sensor use","Lectures/day","Mean glucose","GMI","TAR 180-250","TAR>250","gapC","FSH","LH","Testosterone","Androstendione","DHEAS"]}}, "text": {"field": "g"}}}
]
}
]
}
